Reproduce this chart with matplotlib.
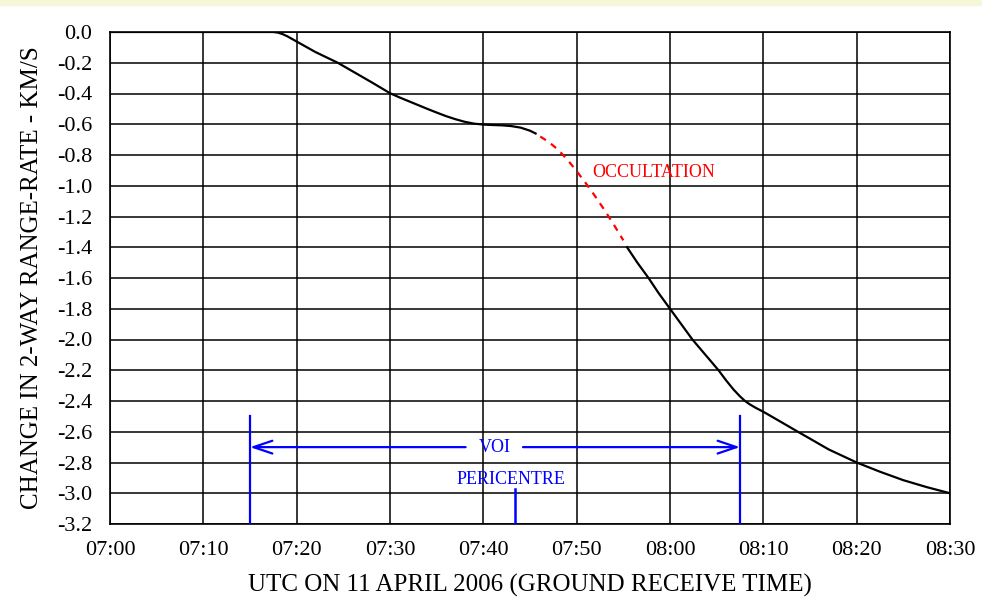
import matplotlib
matplotlib.use("Agg")
import matplotlib.pyplot as plt
from matplotlib.patches import Rectangle

# ---- data (minutes after 07:00, change in range-rate km/s) ----
t_pre = [0, 17.5, 18, 18.5, 19, 20, 22, 24.4, 26, 28, 30, 31, 32, 33, 34, 35, 36, 37, 38, 39,
         40, 41, 42, 43, 44, 45, 45.6]
v_pre = [0, 0, -0.004, -0.014, -0.028, -0.062, -0.13, -0.2, -0.256, -0.326, -0.398, -0.425,
         -0.45, -0.475, -0.5, -0.524, -0.547, -0.567, -0.584, -0.596, -0.602, -0.605, -0.607,
         -0.612, -0.622, -0.642, -0.66]

t_occ = [46.1, 47, 48, 49, 50, 51, 52, 53, 54, 55.0]
v_occ = [-0.68, -0.715, -0.765, -0.83, -0.905, -0.985, -1.07, -1.16, -1.255, -1.355]

t_post = [55.4, 56.5, 57.7, 58.8, 60, 61.2, 62.4, 63.8, 65.2, 66, 66.8, 67.5, 68, 68.5, 69.2,
          70, 71, 72, 73.7, 75, 77, 80, 82.5, 85, 87.5, 90]
v_post = [-1.40, -1.50, -1.6, -1.70, -1.8, -1.9, -2.0, -2.1, -2.2, -2.265, -2.325, -2.37,
          -2.398, -2.42, -2.445, -2.47, -2.505, -2.54, -2.6, -2.645, -2.715, -2.8, -2.86,
          -2.915, -2.96, -3.0]

x_ticks = [0, 10, 20, 30, 40, 50, 60, 70, 80, 90]
x_labels = ["07:00", "07:10", "07:20", "07:30", "07:40", "07:50", "08:00", "08:10", "08:20", "08:30"]
y_ticks = [0.0, -0.2, -0.4, -0.6, -0.8, -1.0, -1.2, -1.4, -1.6, -1.8, -2.0,
           -2.2, -2.4, -2.6, -2.8, -3.0, -3.2]

voi_start, voi_end = 15.0, 67.5
voi_top, voi_arrow_y = -2.5, -2.7
pericentre_t, pericentre_top = 43.4, -2.97

plt.rcParams['font.family'] = ['Liberation Serif', 'DejaVu Serif']

fig = plt.figure(figsize=(9.82, 5.98), dpi=100)
fig.patches.append(Rectangle((0, 1 - 5 / 598), 1, 5 / 598, transform=fig.transFigure,
                             color='#f6f6d8', zorder=0))
ax = fig.add_axes([110 / 982, 74 / 598, 840 / 982, 492 / 598])

ax.set_xlim(0, 90)
ax.set_ylim(-3.2, 0.0)
ax.set_xticks(x_ticks)
ax.set_xticklabels(x_labels)
ax.set_yticks(y_ticks)
ax.set_yticklabels([f"{v:.1f}" for v in y_ticks])
ax.tick_params(axis='both', length=0, labelsize=16)
ax.tick_params(axis='x', pad=12)
ax.tick_params(axis='y', pad=13)
ax.grid(True, color='black', linewidth=1.1)
ax.set_axisbelow(True)
for s in ax.spines.values():
    s.set_color('black')
    s.set_linewidth(1.2)

ax.plot(t_pre, v_pre, color='black', lw=1.6, zorder=3)
ax.plot(t_occ, v_occ, color='red', lw=1.6, linestyle=(0, (3, 2.8)), zorder=3)
ax.plot(t_post, v_post, color='black', lw=1.6, zorder=3)

ax.text(51.7, -0.915, "OCCULTATION", color='red', fontsize=13, va='center', ha='left')

# VOI markers
blue = '#0000ff'
ax.plot([voi_start, voi_start], [voi_top, -3.2], color=blue, lw=1.6, zorder=3)
ax.plot([voi_end, voi_end], [voi_top, -3.2], color=blue, lw=1.6, zorder=3)
arrow_kw = dict(arrowstyle='->,head_length=0.68,head_width=0.23', color=blue, lw=1.6,
                shrinkA=0, shrinkB=0, mutation_scale=20)
ax.annotate("", xy=(voi_start, voi_arrow_y), xytext=(38.1, voi_arrow_y), arrowprops=arrow_kw)
ax.annotate("", xy=(voi_end, voi_arrow_y), xytext=(44.25, voi_arrow_y), arrowprops=arrow_kw)
ax.text(41.2, voi_arrow_y, "VOI", color=blue, fontsize=13, ha='center', va='center')

ax.plot([pericentre_t, pericentre_t], [pericentre_top, -3.2], color=blue, lw=1.8, zorder=3)
ax.text(43.0, -2.91, "PERICENTRE", color=blue, fontsize=13, ha='center', va='center')

ax.set_xlabel("UTC ON 11 APRIL 2006 (GROUND RECEIVE TIME)", fontsize=18, labelpad=10)
ax.set_ylabel("CHANGE IN 2-WAY RANGE-RATE - KM/S", fontsize=18, labelpad=10)

fig.savefig("out.png", dpi=100)
